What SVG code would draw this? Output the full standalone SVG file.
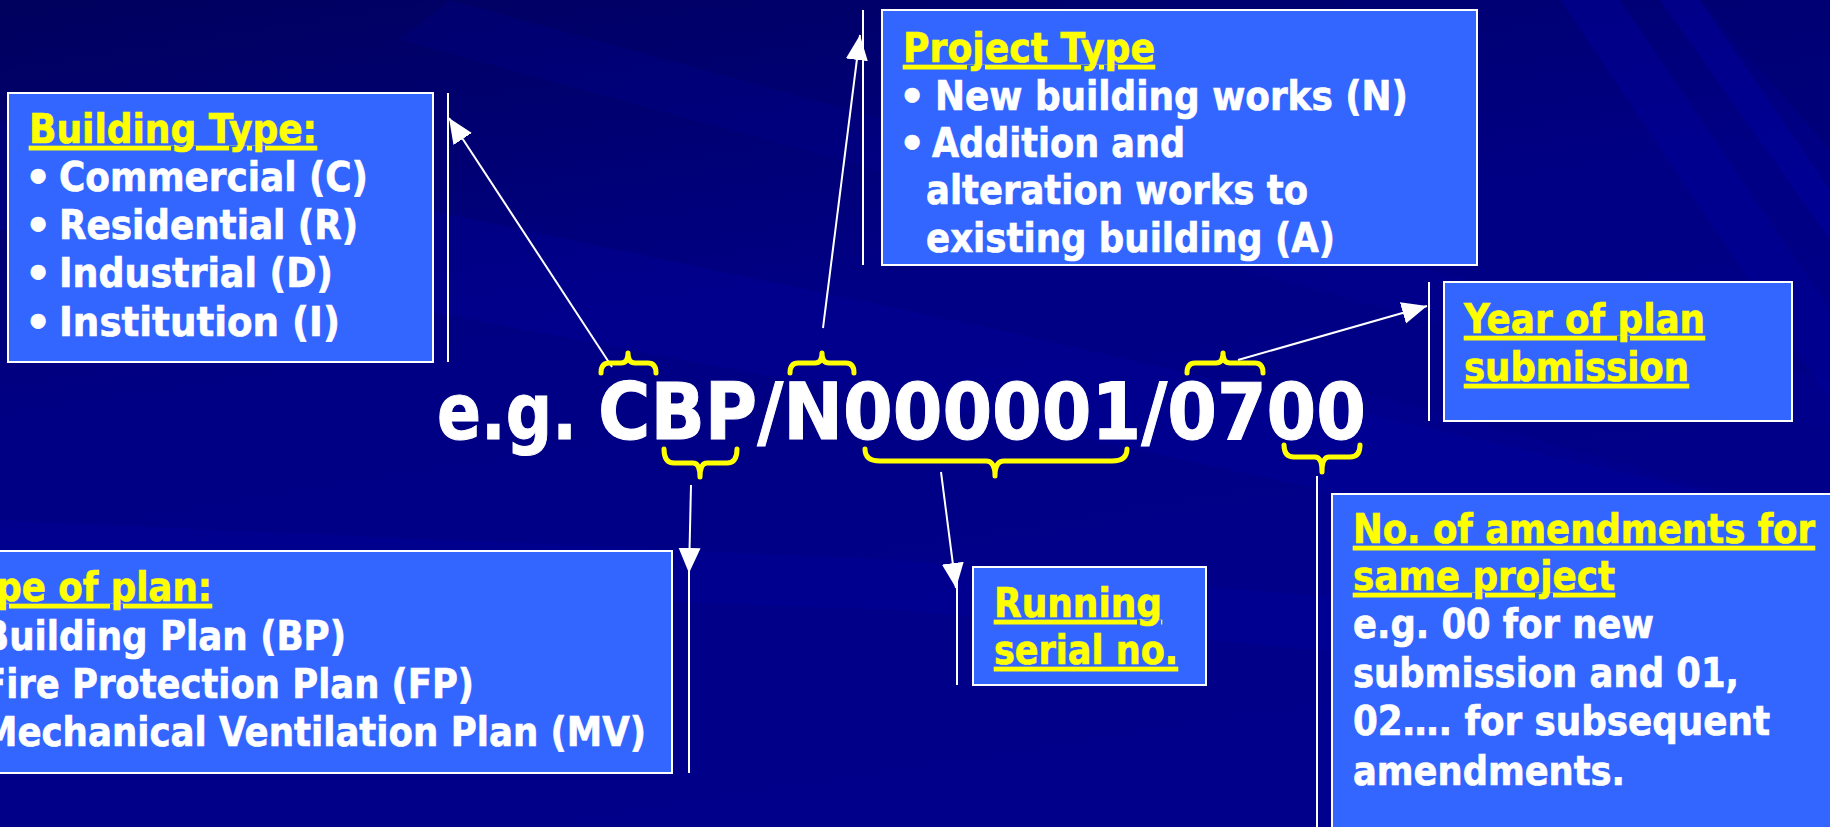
<svg xmlns="http://www.w3.org/2000/svg" width="1830" height="827" viewBox="0 0 1830 827">
<style>
  .box { fill: #3366FF; stroke: #FFFFFF; stroke-width: 2; }
  .t { font-family: "DejaVu Sans", Verdana, sans-serif; font-weight: bold; font-size: 41px; fill: #FFFFFF; stroke: #FFFFFF; stroke-width: 0.7; }
  .h { fill: #FFFF00; stroke: #FFFF00; text-decoration: underline; }
  .code { font-family: "DejaVu Sans", Verdana, sans-serif; font-weight: bold; font-size: 78px; fill: #FFFFFF; stroke: #FFFFFF; stroke-width: 1; }
  .bar { stroke: #FFFFFF; stroke-width: 2; fill: none; }
  .conn { stroke: #FFFFFF; stroke-width: 2; fill: none; }
  .brace { stroke: #FFFF00; stroke-width: 5; fill: none; stroke-linecap: round; stroke-linejoin: round; }
</style>
<defs>
  <linearGradient id="bg" x1="0" y1="0" x2="0.35" y2="1">
    <stop offset="0" stop-color="#00005E"/>
    <stop offset="0.45" stop-color="#000084"/>
    <stop offset="1" stop-color="#00008A"/>
  </linearGradient>
  <marker id="ah" markerUnits="userSpaceOnUse" markerWidth="26" markerHeight="24" refX="25" refY="11" orient="auto">
    <path d="M0,0 L25,11 L0,22 Z" fill="#FFFFFF"/>
  </marker>
</defs>

<!-- background -->
<g id="background">
  <rect x="0" y="0" width="1830" height="827" fill="url(#bg)"/>
  <polygon points="0,120 1000,330 1830,520 1830,600 1000,420 0,230" fill="#0000A8" opacity="0.25"/>
  <polygon points="450,0 1830,380 1830,430 400,40" fill="#0000A0" opacity="0.18"/>
  <polygon points="0,520 900,560 1830,640 1830,700 900,610 0,580" fill="#0000A8" opacity="0.25"/>
  <polygon points="1560,0 1620,0 1830,310 1830,400" fill="#00009C" opacity="0.45"/>
  <polygon points="1660,0 1700,0 1830,190 1830,240" fill="#0000A4" opacity="0.4"/>
  <polygon points="1700,0 1830,0 1830,150" fill="#000070" opacity="0.5"/>
  <polygon points="1320,380 1830,520 1830,827 1320,827" fill="#0000A0" opacity="0.2"/>
</g>

<!-- connectors -->
<g id="connectors">
  <line class="bar" x1="448" y1="93" x2="448" y2="362"/>
  <line class="bar" x1="863" y1="10" x2="863" y2="265"/>
  <line class="bar" x1="1429" y1="282" x2="1429" y2="421"/>
  <line class="bar" x1="689" y1="550" x2="689" y2="773"/>
  <line class="bar" x1="957" y1="567" x2="957" y2="685"/>
  <line class="conn" x1="612" y1="367" x2="449" y2="118" marker-end="url(#ah)"/>
  <line class="conn" x1="823" y1="328" x2="860" y2="35" marker-end="url(#ah)"/>
  <line class="conn" x1="1238" y1="360" x2="1427" y2="306" marker-end="url(#ah)"/>
  <line class="conn" x1="691" y1="485" x2="689" y2="573" marker-end="url(#ah)"/>
  <line class="conn" x1="941" y1="472" x2="956" y2="588" marker-end="url(#ah)"/>
  <line class="conn" x1="1317" y1="476" x2="1317" y2="827"/>
</g>

<!-- code with braces -->
<g id="code">
  <text class="code" x="437" y="439" textLength="140" lengthAdjust="spacingAndGlyphs">e.g.</text>
  <text class="code" x="598" y="439" textLength="768" lengthAdjust="spacingAndGlyphs">CBP/N000001/0700</text>
  <path class="brace" d="M601,373 Q601,363 609,363 L621,363 Q628,363 628,353 Q628,363 635,363 L648,363 Q656,363 656,373"/>
  <path class="brace" d="M790,373 Q790,363 798,363 L815,363 Q822,363 822,353 Q822,363 829,363 L846,363 Q854,363 854,373"/>
  <path class="brace" d="M1187,373 Q1187,363 1195,363 L1216,363 Q1223,363 1223,353 Q1223,363 1230,363 L1255,363 Q1263,363 1263,373"/>
  <path class="brace" d="M664,449 Q664,463 674,463 L693,463 Q700,463 700,477 Q700,463 707,463 L727,463 Q737,463 737,449"/>
  <path class="brace" d="M865,449 Q865,461 880,461 L986,461 Q995,461 995,476 Q995,461 1004,461 L1112,461 Q1127,461 1127,449"/>
  <path class="brace" d="M1284,445 Q1284,457 1294,457 L1315,457 Q1322,457 1322,472 Q1322,457 1329,457 L1350,457 Q1360,457 1360,445"/>
</g>

<!-- Building Type -->
<g id="building-type">
  <rect class="box" x="8" y="93" width="425" height="269"/>
  <text class="t h" x="29" y="143" textLength="288" lengthAdjust="spacingAndGlyphs">Building Type:</text>
  <text class="t" x="25" y="191">•</text>
  <text class="t" x="59" y="191" textLength="309" lengthAdjust="spacingAndGlyphs">Commercial (C)</text>
  <text class="t" x="25" y="239">•</text>
  <text class="t" x="59" y="239" textLength="299" lengthAdjust="spacingAndGlyphs">Residential (R)</text>
  <text class="t" x="25" y="287">•</text>
  <text class="t" x="59" y="287" textLength="274" lengthAdjust="spacingAndGlyphs">Industrial (D)</text>
  <text class="t" x="25" y="336">•</text>
  <text class="t" x="59" y="336" textLength="281" lengthAdjust="spacingAndGlyphs">Institution (I)</text>
</g>

<!-- Project Type -->
<g id="project-type">
  <rect class="box" x="882" y="10" width="595" height="255"/>
  <text class="t h" x="903" y="62" textLength="252" lengthAdjust="spacingAndGlyphs">Project Type</text>
  <text class="t" x="899" y="110">•</text>
  <text class="t" x="935" y="110" textLength="473" lengthAdjust="spacingAndGlyphs">New building works (N)</text>
  <text class="t" x="899" y="157">•</text>
  <text class="t" x="932" y="157" textLength="253" lengthAdjust="spacingAndGlyphs">Addition and</text>
  <text class="t" x="926" y="204" textLength="382" lengthAdjust="spacingAndGlyphs">alteration works to</text>
  <text class="t" x="926" y="252" textLength="409" lengthAdjust="spacingAndGlyphs">existing building (A)</text>
</g>

<!-- Year of plan submission -->
<g id="year">
  <rect class="box" x="1444" y="282" width="348" height="139"/>
  <text class="t h" x="1464" y="333" textLength="241" lengthAdjust="spacingAndGlyphs">Year of plan</text>
  <text class="t h" x="1464" y="381" textLength="225" lengthAdjust="spacingAndGlyphs">submission</text>
</g>

<!-- Type of plan (box runs past the left edge, as in the reference) -->
<g id="plan-type">
  <rect class="box" x="-70" y="551" width="742" height="222"/>
  <text class="t h" x="-47" y="601" textLength="259" lengthAdjust="spacingAndGlyphs">Type of plan:</text>
  <text class="t" x="-18" y="650" textLength="364" lengthAdjust="spacingAndGlyphs">Building Plan (BP)</text>
  <text class="t" x="-18" y="698" textLength="492" lengthAdjust="spacingAndGlyphs">Fire Protection Plan (FP)</text>
  <text class="t" x="-18" y="746" textLength="664" lengthAdjust="spacingAndGlyphs">Mechanical Ventilation Plan (MV)</text>
</g>

<!-- Running serial no. -->
<g id="serial">
  <rect class="box" x="973" y="567" width="233" height="118"/>
  <text class="t h" x="994" y="617" textLength="168" lengthAdjust="spacingAndGlyphs">Running</text>
  <text class="t h" x="994" y="664" textLength="184" lengthAdjust="spacingAndGlyphs">serial no.</text>
</g>

<!-- Amendments -->
<g id="amendments">
  <rect class="box" x="1332" y="494" width="510" height="345"/>
  <text class="t h" x="1353" y="543" textLength="462" lengthAdjust="spacingAndGlyphs">No. of amendments for</text>
  <text class="t h" x="1353" y="590" textLength="262" lengthAdjust="spacingAndGlyphs">same project</text>
  <text class="t" x="1353" y="638" textLength="301" lengthAdjust="spacingAndGlyphs">e.g. 00 for new</text>
  <text class="t" x="1353" y="687" textLength="386" lengthAdjust="spacingAndGlyphs">submission and 01,</text>
  <text class="t" x="1353" y="735" textLength="417" lengthAdjust="spacingAndGlyphs">02…. for subsequent</text>
  <text class="t" x="1353" y="785" textLength="272" lengthAdjust="spacingAndGlyphs">amendments.</text>
</g>
</svg>
